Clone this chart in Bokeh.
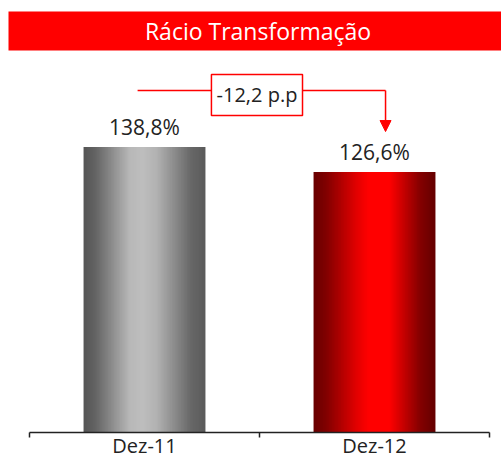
from bokeh.plotting import figure
from bokeh.models import Range1d, FixedTicker, BoxAnnotation, Label, Arrow, NormalHead
from bokeh.core.properties import value
from bokeh.embed import file_html
from bokeh.resources import INLINE

# ---- data ----
categories = ["Dez-11", "Dez-12"]
values = [138.8, 126.6]
value_labels = ["138,8%", "126,6%"]
title_text = "Rácio Transformação"
delta_text = "-12,2 p.p"

FONT = "Open Sans"
RED = "#ff0000"

# gradient stops (position across bar, (r,g,b))
gray_stops = [(0.0, (85, 85, 85)), (0.10, (100, 100, 100)), (0.38, (184, 184, 184)),
              (0.48, (190, 190, 190)), (0.60, (178, 178, 178)), (0.88, (104, 104, 104)),
              (1.0, (90, 90, 90))]
red_stops = [(0.0, (104, 0, 0)), (0.10, (128, 0, 0)), (0.35, (225, 0, 0)),
             (0.45, (255, 0, 0)), (0.62, (255, 0, 0)), (0.88, (130, 0, 0)),
             (1.0, (100, 0, 0))]
bar_stops = [gray_stops, red_stops]


def grad(stops, t):
    for (t0, c0), (t1, c1) in zip(stops[:-1], stops[1:]):
        if t0 <= t <= t1:
            f = (t - t0) / (t1 - t0) if t1 > t0 else 0
            c = [round(a + (b - a) * f) for a, b in zip(c0, c1)]
            return "#%02x%02x%02x" % tuple(c)
    return "#%02x%02x%02x" % stops[-1][1]


n = len(categories)
BAR_W = 0.53
px_per_x = 230.0
p = figure(width=501, height=461,
           x_range=Range1d(-29 / px_per_x, n + 12 / px_per_x),
           y_range=Range1d(0, 210.0),
           y_axis_location=None,
           output_backend="svg", toolbar_location=None,
           min_border=0, min_border_bottom=29)
p.grid.visible = False
p.outline_line_color = None
p.background_fill_color = "white"
p.border_fill_color = "white"

# title band
p.add_layout(BoxAnnotation(left=-21 / px_per_x, bottom=185.7, top=204.7,
                           fill_color=RED, fill_alpha=1, line_alpha=0,
                           level="underlay"))
p.add_layout(Label(x=0.9935, y=195.2, text=title_text, text_color="white",
                   text_font=FONT, text_font_size="23px",
                   text_align="center", text_baseline="middle"))

# gradient bars as thin strips
NS = 80
lefts, rights, tops, colors = [], [], [], []
for i, v in enumerate(values):
    x0 = i + 0.5 - BAR_W / 2
    dw = BAR_W / NS
    for k in range(NS):
        l = x0 + k * dw
        r = l + dw * (1.6 if k < NS - 1 else 1.0)
        lefts.append(l)
        rights.append(r)
        tops.append(v)
        colors.append(grad(bar_stops[i], (k + 0.5) / NS))
p.quad(left=lefts, right=rights, bottom=0, top=tops, fill_color=colors,
       line_color=None)

# value labels
centers = [i + 0.5 for i in range(n)]
p.text(x=centers, y=values, text=value_labels, text_font=value(FONT),
       text_font_size="21px", text_color="#222222", text_align="center",
       text_baseline="alphabetic", y_offset=-20)

# delta annotation
ann_y = 166.3
p.line(x=[0.47, 1.548], y=[ann_y, ann_y], line_color=RED, line_width=1.5)
p.add_layout(Arrow(x_start=1.548, y_start=ann_y, x_end=1.548, y_end=146.3,
                   line_color=RED, line_width=1.5,
                   end=NormalHead(size=11, fill_color=RED, line_color=RED)))
p.add_layout(BoxAnnotation(left=0.791, right=1.187, bottom=154.1, top=174.0,
                           fill_color="white", fill_alpha=1, line_color=RED,
                           line_width=1.5, line_alpha=1))
p.add_layout(Label(x=0.989, y=164.1, text=delta_text, text_font=FONT,
                   text_font_size="20px", text_color="#222222",
                   text_align="center", text_baseline="middle"))

# x axis: boundaries as minor ticks, category labels at centers
ax = p.xaxis[0]
ax.ticker = FixedTicker(ticks=centers, minor_ticks=list(range(n + 1)))
ax.major_label_overrides = {c: cat for c, cat in zip(centers, categories)}
ax.bounds = (0, n)
ax.major_tick_out = 0
ax.major_tick_in = 0
ax.minor_tick_out = 5
ax.minor_tick_in = 0
ax.minor_tick_line_color = "#222222"
ax.axis_line_color = "#222222"
ax.axis_line_width = 1.5
ax.minor_tick_line_width = 1.5
ax.major_label_standoff = -6
ax.major_label_text_font = FONT
ax.major_label_text_font_size = "20px"
ax.major_label_text_color = "#222222"

open("out.html", "w").write(file_html(p, INLINE))
